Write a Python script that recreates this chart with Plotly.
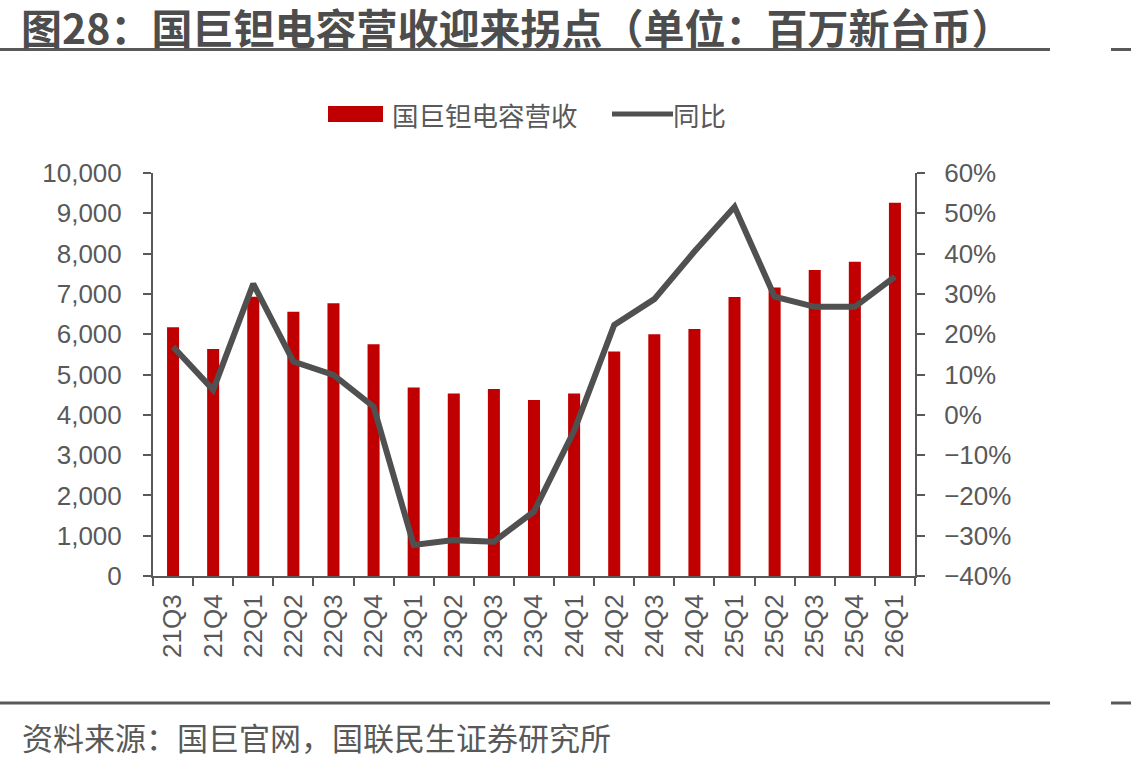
import plotly.graph_objects as go

quarters = ["21Q3", "21Q4", "22Q1", "22Q2", "22Q3", "22Q4", "23Q1", "23Q2", "23Q3", "23Q4",
            "24Q1", "24Q2", "24Q3", "24Q4", "25Q1", "25Q2", "25Q3", "25Q4", "26Q1"]
revenue = [6170, 5630, 6930, 6560, 6770, 5750, 4680, 4530, 4640, 4370,
           4530, 5570, 6000, 6130, 6920, 7160, 7590, 7800, 9260]
yoy = [0.169, 0.062, 0.325, 0.132, 0.099, 0.020, -0.323, -0.311, -0.315, -0.240,
       -0.040, 0.223, 0.287, 0.405, 0.516, 0.293, 0.268, 0.268, 0.343]

title_text = "图28：国巨钽电容营收迎来拐点（单位：百万新台币）"
source_text = "资料来源：国巨官网，国联民生证券研究所"
bar_name = "国巨钽电容营收"
line_name = "同比"

W, H = 1131, 765
L, R, T, B = 153, 915, 173, 576
PW, PH = R - L, B - T

def px(x):
    return (x - L) / PW

def py(y):
    return (B - y) / PH

RED = "#C00000"
LINE = "#505050"
AX = "#595959"
CJK = "Noto Sans CJK SC"
NUM = "Liberation Sans, Arial"

fig = go.Figure()
fig.add_trace(go.Bar(x=quarters, y=revenue, name=bar_name, marker_color=RED,
                     marker_line_width=0, yaxis="y", showlegend=False))
fig.add_trace(go.Scatter(x=quarters, y=yoy, name=line_name, mode="lines",
                         line=dict(color=LINE, width=6), yaxis="y2", showlegend=False))

axis_common = dict(showline=True, linecolor=AX, linewidth=2, ticks="outside",
                   ticklen=8, tickwidth=2, tickcolor=AX, showgrid=False, zeroline=False,
                   tickfont=dict(family=NUM, size=26, color=AX))

fig.update_layout(
    width=W, height=H,
    margin=dict(l=L, r=W - R, t=T, b=H - B),
    paper_bgcolor="white", plot_bgcolor="white",
    bargap=0.7,
    xaxis=dict(type="category", tickson="boundaries", tickangle=-90,
               ticklabelstandoff=6, **axis_common),
    yaxis=dict(range=[0, 10000], dtick=1000, tickformat=",", ticklabelstandoff=16,
               **axis_common),
    yaxis2=dict(range=[-0.4, 0.6], dtick=0.1, tickformat=".0%", overlaying="y",
                side="right", ticklabelstandoff=14, **axis_common),
    shapes=[
        dict(type="line", xref="paper", yref="paper", x0=px(0), x1=px(1050),
             y0=py(49.5), y1=py(49.5), line=dict(color=AX, width=3)),
        dict(type="line", xref="paper", yref="paper", x0=px(1111), x1=px(1131),
             y0=py(49.5), y1=py(49.5), line=dict(color=AX, width=3)),
        dict(type="line", xref="paper", yref="paper", x0=px(0), x1=px(1050),
             y0=py(703), y1=py(703), line=dict(color=AX, width=3)),
        dict(type="line", xref="paper", yref="paper", x0=px(1111), x1=px(1131),
             y0=py(703), y1=py(703), line=dict(color=AX, width=3)),
        dict(type="rect", xref="paper", yref="paper", x0=px(328), x1=px(383),
             y0=py(122), y1=py(106), fillcolor=RED, line=dict(width=0)),
        dict(type="line", xref="paper", yref="paper", x0=px(612), x1=px(673),
             y0=py(114), y1=py(114), line=dict(color=LINE, width=5)),
    ],
    annotations=[
        dict(text="<b>" + title_text + "</b>", xref="paper", yref="paper",
             x=px(20), y=py(26), xanchor="left", yanchor="middle", showarrow=False,
             borderpad=0, font=dict(family=CJK, size=41, color="#4D4D4D")),
        dict(text=source_text, xref="paper", yref="paper",
             x=px(20), y=py(736), xanchor="left", yanchor="middle", showarrow=False,
             font=dict(family=CJK, size=31, color=AX)),
        dict(text=bar_name, xref="paper", yref="paper",
             x=px(390), y=py(114), xanchor="left", yanchor="middle", showarrow=False,
             font=dict(family=CJK, size=26.5, color=AX)),
        dict(text=line_name, xref="paper", yref="paper",
             x=px(671), y=py(114), xanchor="left", yanchor="middle", showarrow=False,
             font=dict(family=CJK, size=26.5, color=AX)),
    ],
)

fig.write_html("out.html")
